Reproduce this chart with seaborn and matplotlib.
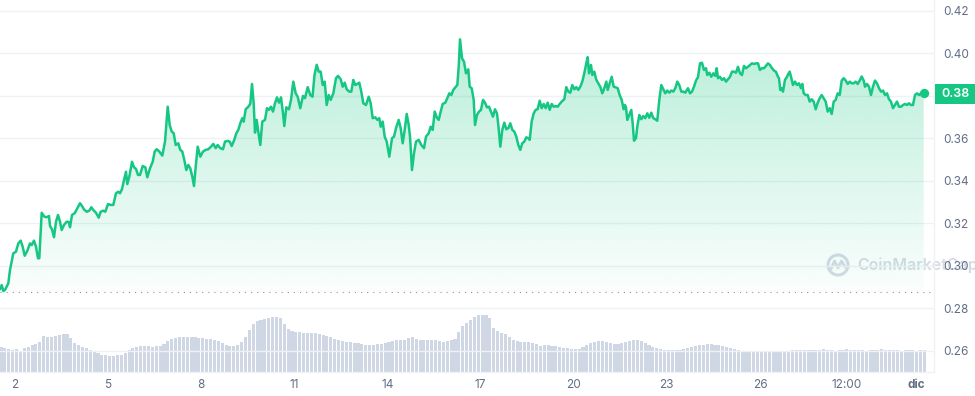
import numpy as np
import pandas as pd
import seaborn as sns
import matplotlib.pyplot as plt
from matplotlib import transforms
from matplotlib.patches import Rectangle, Circle
from matplotlib.colors import LinearSegmentedColormap

# price readings: day of month (nov, 31 = 1 dic) and price in usd
days = [
    1.517, 1.572, 1.623, 1.678, 1.784, 1.839, 1.945, 2.032, 2.107, 2.184, 2.248, 2.313, 2.397, 2.483,
    2.538, 2.612, 2.677, 2.741, 2.783, 2.860, 2.944, 3.021, 3.096, 3.128, 3.192, 3.257, 3.321, 3.386,
    3.450, 3.505, 3.579, 3.666, 3.730, 3.772, 3.837, 3.924, 4.007, 4.094, 4.159, 4.223, 4.310, 4.394,
    4.458, 4.523, 4.610, 4.697, 4.761, 4.845, 4.909, 4.996, 5.083, 5.167, 5.254, 5.328, 5.383, 5.447,
    5.512, 5.576, 5.618, 5.683, 5.770, 5.834, 5.899, 5.963, 6.027, 6.114, 6.198, 6.263, 6.349, 6.436,
    6.501, 6.565, 6.649,
    6.746, 6.833, 6.920, 6.984, 7.049, 7.113, 7.177, 7.261, 7.326, 7.390, 7.455, 7.519, 7.583, 7.648,
    7.712, 7.767, 7.822, 7.886, 7.970, 8.057, 8.144, 8.228, 8.315, 8.389, 8.466, 8.530, 8.614, 8.701,
    8.766, 8.852, 8.917, 8.981, 9.065, 9.130, 9.194, 9.258, 9.323, 9.368, 9.432, 9.516, 9.580, 9.635,
    9.690, 9.732, 9.787, 9.838, 9.903, 9.967, 10.054, 10.119, 10.183, 10.247, 10.312, 10.376, 10.441,
    10.505, 10.570, 10.634, 10.676, 10.741, 10.827, 10.892, 10.966, 11.043, 11.108, 11.191, 11.278,
    11.343, 11.430, 11.514, 11.585, 11.649,
    11.720, 11.785, 11.849, 11.913, 11.978, 12.042, 12.107, 12.171, 12.255, 12.341, 12.406, 12.493,
    12.557, 12.622, 12.686, 12.770, 12.835, 12.899, 12.963, 13.028, 13.092, 13.156, 13.221, 13.308,
    13.395, 13.459, 13.524, 13.608, 13.672, 13.736, 13.782, 13.846, 13.910, 13.975, 14.059, 14.146,
    14.210, 14.275, 14.361, 14.426, 14.490, 14.555, 14.619, 14.684, 14.726, 14.790, 14.855, 14.919,
    15.006, 15.090, 15.177, 15.241, 15.328, 15.392, 15.457, 15.521, 15.586, 15.650, 15.715, 15.779,
    15.863, 15.927, 15.992, 16.056, 16.121, 16.185, 16.250, 16.295, 16.337, 16.401, 16.465, 16.530,
    16.604, 16.649, 16.713, 16.778, 16.820, 16.884, 16.949, 17.013, 17.078, 17.142, 17.206, 17.271,
    17.335, 17.400, 17.464, 17.528, 17.571, 17.635, 17.699, 17.764, 17.828, 17.893, 17.957, 18.022,
    18.086, 18.150, 18.215, 18.279, 18.344, 18.408, 18.472, 18.537, 18.582, 18.646, 18.711, 18.775,
    18.840, 18.904, 18.968, 19.033, 19.097, 19.162, 19.226, 19.291, 19.355, 19.419, 19.484, 19.548,
    19.613, 19.696, 19.761, 19.826, 19.890, 19.954, 20.019, 20.083, 20.147, 20.212, 20.276, 20.341,
    20.405, 20.450, 20.492, 20.557, 20.599, 20.663, 20.728, 20.792, 20.856, 20.921, 20.985, 21.050,
    21.095, 21.159, 21.224, 21.288, 21.352, 21.417, 21.481, 21.546, 21.610, 21.652,
    21.684, 21.726, 21.791, 21.855, 21.900, 21.942, 22.006, 22.048, 22.113, 22.177, 22.241, 22.306,
    22.370, 22.435, 22.499, 22.564, 22.628, 22.692, 22.757, 22.821, 22.886, 22.950, 23.014, 23.079,
    23.143, 23.208, 23.272, 23.337, 23.401, 23.465, 23.530, 23.594, 23.681, 23.746, 23.810, 23.875,
    23.939, 24.004, 24.068, 24.132, 24.197, 24.261, 24.303, 24.368, 24.432, 24.497, 24.561, 24.606,
    24.648, 24.712, 24.777, 24.841, 24.906, 24.970, 25.035, 25.099, 25.163, 25.228, 25.292, 25.357,
    25.421, 25.486, 25.550, 25.614, 25.679, 25.743, 25.808, 25.872, 25.937, 26.001, 26.065, 26.130,
    26.194, 26.259, 26.323, 26.388, 26.452, 26.516, 26.581, 26.613, 26.655, 26.700, 26.742, 26.806,
    26.871, 26.913, 26.958, 27.000, 27.064, 27.129, 27.193, 27.258, 27.322, 27.364, 27.409, 27.474,
    27.538, 27.602, 27.667, 27.731, 27.796, 27.860, 27.925, 27.989, 28.053, 28.118, 28.182, 28.247,
    28.311, 28.376, 28.440, 28.504, 28.569, 28.633, 28.698, 28.762, 28.827, 28.891, 28.955, 29.020,
    29.084, 29.149, 29.213, 29.277, 29.342, 29.384, 29.448, 29.513, 29.577, 29.642, 29.706, 29.771,
    29.835, 29.899, 29.964, 30.028, 30.093, 30.157, 30.221, 30.286, 30.350, 30.415, 30.479, 30.544,
    30.608, 30.673, 30.737, 30.801, 30.866, 30.930, 30.995, 31.059, 31.124, 31.188, 31.275,
]
prices = [
    .2889, .2909, .2881, .2886, .2917, .2980, .3058, .3066, .3105, .3118, .3089, .3047, .3070, .3105,
    .3097, .3118, .3089, .3035, .3035, .3249, .3231, .3228, .3234, .3187, .3171, .3134, .3207, .3239,
    .3207, .3168, .3192, .3207, .3206, .3181, .3239, .3247, .3270, .3294, .3281, .3265, .3254, .3259,
    .3275, .3262, .3249, .3226, .3254, .3259, .3254, .3290, .3286, .3286, .3341, .3348, .3341, .3360,
    .3403, .3442, .3384, .3419, .3489, .3463, .3455, .3427, .3427, .3469, .3463, .3416, .3458, .3489,
    .3537, .3548, .3537,
    .3518, .3584, .3748, .3662, .3631, .3623, .3568, .3576, .3545, .3537, .3497, .3450, .3474, .3458,
    .3419, .3375, .3466, .3560, .3513, .3537, .3545, .3548, .3560, .3573, .3553, .3568, .3553, .3548,
    .3584, .3587, .3584, .3563, .3592, .3623, .3639, .3670, .3694, .3678, .3736, .3748, .3761, .3855,
    .3764, .3626, .3686, .3631, .3568, .3678, .3686, .3741, .3733, .3748, .3725, .3764, .3792,
    .3767, .3792, .3717, .3657, .3745, .3736, .3780, .3866, .3811, .3795, .3741, .3799,
    .3788, .3840, .3803, .3795, .3897,
    .3945, .3913, .3913, .3850, .3866, .3756, .3803, .3780, .3811, .3882, .3893, .3877,
    .3842, .3861, .3830, .3819, .3819, .3874, .3850, .3855, .3861, .3819, .3764, .3756,
    .3795, .3764, .3694, .3698, .3686, .3694, .3654, .3678, .3607, .3584, .3513, .3600,
    .3607, .3647, .3686, .3647, .3576, .3639, .3714, .3662, .3607, .3450, .3529, .3584,
    .3592, .3568, .3553, .3607, .3623, .3654, .3639, .3725, .3698, .3686, .3725, .3761,
    .3767, .3788, .3811, .3803, .3827, .3839, .3850, .3937, .4065, .3976, .3960, .3905,
    .3924, .3842, .3835, .3780, .3662, .3709, .3725, .3733, .3780, .3767, .3745, .3748,
    .3725, .3701, .3736, .3717, .3662, .3560, .3639, .3673, .3642, .3647, .3670, .3639,
    .3631, .3607, .3568, .3545, .3576, .3584, .3604, .3600, .3592, .3678, .3717, .3733,
    .3737, .3776, .3741, .3761, .3741, .3767, .3733, .3761, .3748, .3751, .3748, .3761,
    .3772, .3783, .3840, .3819, .3814, .3850, .3830, .3840, .3827, .3842, .3866, .3905,
    .3952, .3981, .3905, .3944, .3897, .3913, .3874, .3858, .3842, .3811, .3835, .3866,
    .3827, .3858, .3889, .3842, .3839, .3835, .3803, .3780, .3736, .3756,
    .3745, .3686, .3709, .3733, .3670, .3588, .3600, .3654, .3709, .3689, .3704, .3694,
    .3717, .3696, .3720, .3694, .3689, .3682, .3780, .3850, .3830, .3811, .3824, .3814,
    .3824, .3819, .3835, .3866, .3850, .3819, .3819, .3814, .3835, .3811, .3819, .3842,
    .3871, .3887, .3952, .3955, .3921, .3929, .3897, .3908, .3889, .3905, .3893, .3929,
    .3882, .3889, .3874, .3882, .3866, .3877, .3889, .3913, .3913, .3908, .3936, .3905,
    .3897, .3940, .3929, .3936, .3944, .3952, .3949, .3952, .3952, .3921, .3929, .3929,
    .3940, .3952, .3944, .3929, .3918, .3912, .3889, .3882, .3827, .3835, .3819, .3874,
    .3889, .3902, .3913, .3889, .3850, .3866, .3850, .3858, .3835, .3855, .3811, .3803,
    .3803, .3772, .3783, .3772, .3736, .3767, .3788, .3803, .3788, .3772, .3725, .3741,
    .3714, .3772, .3780, .3811, .3803, .3871, .3882, .3871, .3855, .3866, .3858, .3858,
    .3866, .3855, .3871, .3890, .3871, .3842, .3855, .3842, .3803, .3842, .3871, .3858,
    .3835, .3819, .3824, .3803, .3811, .3783, .3772, .3741, .3756, .3772, .3748, .3748,
    .3756, .3761, .3756, .3764, .3756, .3756, .3803, .3811, .3803, .3811, .3811,
]

# volume bars, one every 3 hours (relative height)
vol_start = 1.55
vol_step = 0.125
volume = [
    25, 24, 23, 22, 23, 21, 24, 25, 27, 28, 30, 36, 35, 35, 36, 37, 38, 38, 34, 29,
    27, 25, 24, 22, 20, 19, 17, 17, 16, 16, 17, 17, 19, 22, 24, 25, 26, 26, 26, 25,
    26, 26, 28, 31, 33, 34, 35, 35, 35, 35, 35, 34, 34, 33, 33, 32, 31, 29, 27, 26,
    26, 27, 30, 35, 42, 48, 51, 52, 53, 54, 55, 55, 54, 48, 43, 41, 40, 40, 39, 39,
    39, 39, 38, 37, 36, 35, 33, 32, 31, 30, 30, 29, 29, 28, 27, 27, 27, 28, 28, 29,
    30, 31, 32, 32, 32, 34, 35, 33, 32, 32, 32, 32, 32, 31, 30, 31, 32, 33, 40, 46,
    49, 52, 55, 57, 57, 57, 54, 44, 41, 39, 38, 35, 32, 31, 30, 30, 30, 29, 28, 26,
    27, 27, 26, 26, 25, 24, 24, 23, 23, 23, 25, 27, 29, 30, 31, 31, 30, 29, 28, 28,
    29, 30, 31, 32, 32, 31, 29, 27, 25, 24, 23, 22, 22, 22, 22, 22, 23, 24, 25, 26,
    27, 27, 28, 28, 27, 27, 26, 25, 24, 23, 22, 21, 20, 20, 20, 20, 20, 20, 21, 21,
    21, 21, 21, 21, 22, 22, 22, 22, 22, 22, 22, 22, 23, 22, 22, 21, 22, 22, 23, 22,
    22, 22, 22, 21, 22, 22, 22, 23, 22, 22, 22, 22, 21, 22, 22, 22, 21, 22, 22,
]

ytick_vals = [0.26, 0.28, 0.30, 0.32, 0.34, 0.36, 0.38, 0.40, 0.42]
xtick_pos = [2, 5, 8, 11, 14, 17, 20, 23, 26, 28.8, 31.03]
xtick_labels = ['2', '5', '8', '11', '14', '17', '20', '23', '26', '12:00', 'dic']
start_price = 0.2876
last_label = '0.38'

GREEN = '#16c784'
GREY = '#616e85'
GRID = '#eff2f5'
XLIM = (1.517, 31.607)
YLIM = (0.25, 0.425)

sns.set_style('white')
plt.rcParams['font.family'] = ['Inter', 'DejaVu Sans']

fig = plt.figure(figsize=(9.75, 3.96), dpi=100)
fig.patch.set_facecolor('white')
rect = [0, 24 / 396, 934 / 975, 372 / 396]

# watermark behind everything
fig.add_artist(Circle((8.38, 1.31), 0.1, transform=fig.dpi_scale_trans, fill=False,
                      lw=2.2, ec='#d5dbe6', zorder=-5))
fig.add_artist(plt.Line2D([8.31, 8.345, 8.38, 8.415, 8.45], [1.27, 1.35, 1.28, 1.35, 1.29],
                          transform=fig.dpi_scale_trans, lw=2, color='#d5dbe6', zorder=-5))
fig.text(8.57 / 9.75, 1.31 / 3.96, 'CoinMarketCap', fontsize=11.5, color='#d5dbe6',
         fontweight='semibold', va='center', ha='left', zorder=-5)

# volume (own scale, under the price axes)
ax_vol = fig.add_axes(rect)
ax_vol.patch.set_visible(False)
vol_days = vol_start + vol_step * np.arange(len(volume))
ax_vol.bar(vol_days, volume, width=vol_step * 0.8, color='#cfd6e4', linewidth=0)
ax_vol.set_xlim(*XLIM)
ax_vol.set_ylim(0, 372)
ax_vol.axis('off')

ax = fig.add_axes(rect)
ax.patch.set_visible(False)

df = pd.DataFrame({'day': days, 'price': prices})

# gradient area down to the opening price
poly = ax.fill_between(df.day, df.price, start_price, color='none', lw=0)
g = np.array([22, 199, 132]) / 255
cmap = LinearSegmentedColormap.from_list('fade', [(*g, 0.02), (*g, 0.30)])
img = ax.imshow(np.linspace(0, 1, 256).reshape(-1, 1), extent=[XLIM[0], XLIM[1], start_price, max(prices)],
                origin='lower', aspect='auto', cmap=cmap, zorder=1)
img.set_clip_path(poly.get_paths()[0], transform=ax.transData)

sns.lineplot(data=df, x='day', y='price', ax=ax, color=GREEN, lw=1.8, zorder=3)
ax.axhline(start_price, color='#8c95a6', lw=0.8, ls=(0, (1, 4.5)), zorder=2)
ax.scatter([days[-1]], [prices[-1]], s=45, color=GREEN, zorder=4, linewidths=0)

ax.set_xlim(*XLIM)
ax.set_ylim(*YLIM)
ax.set_xlabel('')
ax.set_ylabel('')

ax.yaxis.tick_right()
# the 0.38 tick sits under the price badge
ax.set_yticks(ytick_vals, ['' if f'{v:.2f}' == last_label else f'{v:.2f}' for v in ytick_vals])
ax.set_xticks(xtick_pos, xtick_labels)
ax.tick_params(axis='y', length=0, pad=7, labelsize=8.5, labelcolor=GREY)
ax.tick_params(axis='x', length=0, pad=5, labelsize=8.5, labelcolor=GREY)
ax.get_xticklabels()[-1].set_fontweight('bold')
ax.yaxis.grid(True, color=GRID, lw=1)
ax.set_axisbelow(True)

for side in ['left', 'top']:
    ax.spines[side].set_visible(False)
for side in ['right', 'bottom']:
    ax.spines[side].set_color(GRID)
    ax.spines[side].set_linewidth(1)

# current price badge
blend = transforms.blended_transform_factory(ax.transAxes, ax.transData)
ax.add_patch(Rectangle((1.001, prices[-1] - 0.0048), 0.043, 0.0094, transform=blend,
                       color=GREEN, clip_on=False, zorder=6, lw=0))
ax.text(1.0225, prices[-1] - 0.0002, last_label, transform=blend, ha='center', va='center',
        color='white', fontsize=9, fontweight='semibold', zorder=7, clip_on=False)

fig.savefig('out.png', dpi=100, facecolor='white')
